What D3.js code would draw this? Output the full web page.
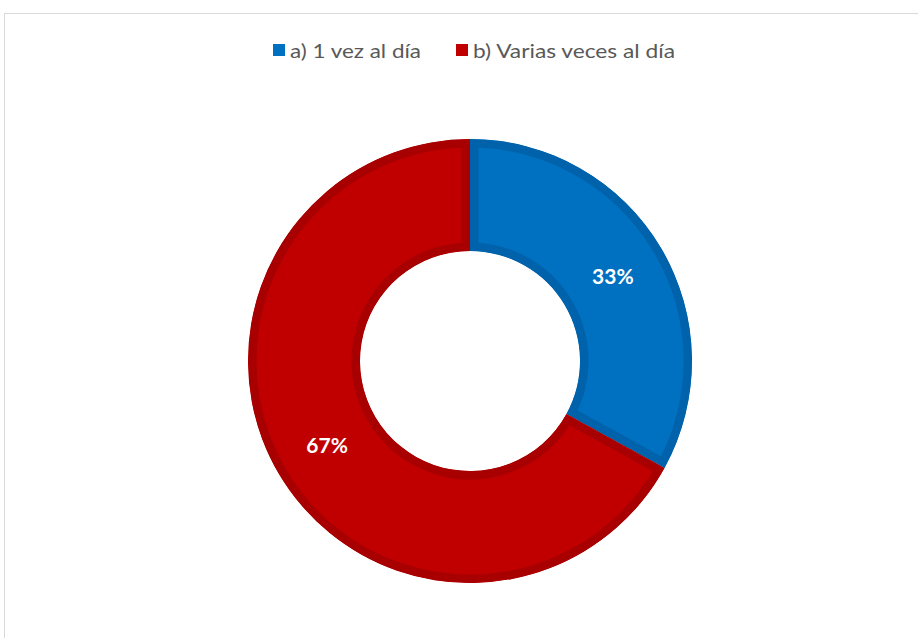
<!DOCTYPE html>
<html>
<head>
<meta charset="utf-8">
<script src="https://cdn.jsdelivr.net/npm/d3@7"></script>
<style>
  html, body { margin: 0; padding: 0; background: #fff; }
  svg { display: block; }
</style>
</head>
<body>
<svg id="chart" width="918" height="638"></svg>
<script>
// Frequency of the activity per day (share of respondents, %)
const categories = ["a) 1 vez al día", "b) Varias veces al día"];
const values = [33, 67];
const fillColors = ["#0070C0", "#C00000"];
const edgeColors = ["#0062AA", "#A80000"];

const svg = d3.select("#chart");

// chart area frame (its right and bottom edges fall outside the view)
svg.append("rect")
  .attr("x", 4.5).attr("y", 13.5)
  .attr("width", 1000).attr("height", 1000)
  .attr("fill", "none").attr("stroke", "#D9D9D9").attr("stroke-width", 1);

const cx = 470, cy = 361;
const outerR = 222, innerR = 110;

const pie = d3.pie().sort(null).value(d => d)(values);
const arc = d3.arc().outerRadius(outerR).innerRadius(innerR);

// each slice gets an inner darker rim: a wide stroke clipped to the slice shape
const defs = svg.append("defs");
const ring = svg.append("g").attr("transform", `translate(${cx},${cy})`);

pie.forEach((p, i) => {
  const id = "slice-clip-" + i;
  defs.append("clipPath").attr("id", id)
    .append("path").attr("d", arc(p));
  ring.append("g")
    .attr("clip-path", `url(#${id})`)
    .append("path")
    .attr("d", arc(p))
    .attr("fill", fillColors[i])
    .attr("stroke", edgeColors[i])
    .attr("stroke-width", 17);
});

// value labels at the middle of the ring
const midR = (outerR + innerR) / 2;
const labelArc = d3.arc().outerRadius(midR).innerRadius(midR);
ring.append("g")
  .selectAll("text")
  .data(pie)
  .join("text")
  .attr("transform", d => `translate(${labelArc.centroid(d)})`)
  .attr("text-anchor", "middle")
  .attr("dy", "0.35em")
  .attr("fill", "#fff")
  .attr("font-family", "Lato, 'Open Sans', sans-serif")
  .attr("font-weight", "bold")
  .attr("font-size", 21)
  .text(d => d.data + "%");

// legend
const legendX = [273, 456];
const textW = [131, 202];
const legend = svg.append("g");
categories.forEach((c, i) => {
  legend.append("rect")
    .attr("x", legendX[i]).attr("y", 44)
    .attr("width", 12).attr("height", 12)
    .attr("fill", fillColors[i]);
  legend.append("text")
    .attr("x", legendX[i] + 17).attr("y", 58)
    .attr("fill", "#595959")
    .attr("font-family", "Lato, 'Open Sans', sans-serif")
    .attr("font-size", 20)
    .attr("textLength", textW[i])
    .attr("lengthAdjust", "spacingAndGlyphs")
    .text(c);
});
</script>
</body>
</html>
